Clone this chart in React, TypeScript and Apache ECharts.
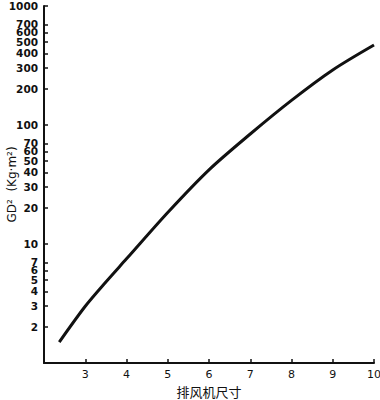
import React, { useEffect, useRef } from "react";
import * as echarts from "echarts";

const fanSizes = [2.37, 3, 3.5, 4, 5, 6, 7, 8, 9, 10];
const gd2Values = [1.5, 3.0, 4.8, 7.5, 18.4, 42, 84, 161, 290, 470];
const yTickValues = [2, 3, 4, 5, 6, 7, 10, 20, 30, 40, 50, 60, 70, 100, 200, 300, 400, 500, 600, 700, 1000];
const xTickValues = [3, 4, 5, 6, 7, 8, 9, 10];
const xTitle = "排风机尺寸";
const yTitle = "GD²  (Kg·m²)";

export default function App() {
  const ref = useRef<HTMLDivElement>(null);
  useEffect(() => {
    const chart = echarts.init(ref.current!, null, { renderer: "svg" });
    chart.setOption({
      animation: false,
      backgroundColor: "#ffffff",
      grid: { left: 44, right: 6, top: 6, bottom: 37, containLabel: false, outerBoundsMode: "none" },
      xAxis: {
        type: "value",
        min: 2,
        max: 10,
        interval: 1,
        name: xTitle,
        nameLocation: "middle",
        nameGap: 22,
        nameMoveOverlap: false,
        nameTextStyle: { fontSize: 13, color: "#111", fontFamily: "Noto Sans CJK SC" },
        splitLine: { show: false },
        axisLine: { show: true, lineStyle: { color: "#111", width: 2 } },
        axisTick: { show: true, inside: true, length: 4, lineStyle: { color: "#111", width: 1.5 }, customValues: xTickValues },
        axisLabel: { color: "#111", fontSize: 11, fontFamily: "DejaVu Sans", margin: 6, customValues: xTickValues },
      },
      yAxis: {
        type: "log",
        logBase: 10,
        min: 1,
        max: 1000,
        name: yTitle,
        nameLocation: "middle",
        nameGap: 26,
        nameMoveOverlap: false,
        nameTextStyle: { fontSize: 12, color: "#111", fontFamily: "DejaVu Sans" },
        splitLine: { show: false },
        axisLine: { show: true, lineStyle: { color: "#111", width: 2 } },
        axisTick: { show: true, inside: true, length: 4, lineStyle: { color: "#111", width: 1.5 }, customValues: [...yTickValues] },
        axisLabel: {
          color: "#111",
          fontSize: 10.5,
          lineHeight: 8,
          fontWeight: "bold",
          fontFamily: "DejaVu Sans",
          margin: 6,
          hideOverlap: false,
          customValues: [...yTickValues],
          formatter: (v: number) => String(Math.round(v)),
        },
      },
      series: [
        {
          type: "line",
          data: fanSizes.map((x, i) => [x, gd2Values[i]]),
          smooth: 0.3,
          showSymbol: false,
          lineStyle: { color: "#111", width: 3 },
        },
      ],
    });
    return () => chart.dispose();
  }, []);
  return <div ref={ref} style={{ position: "fixed", left: 0, top: 0, width: 380, height: 400 }} />;
}
